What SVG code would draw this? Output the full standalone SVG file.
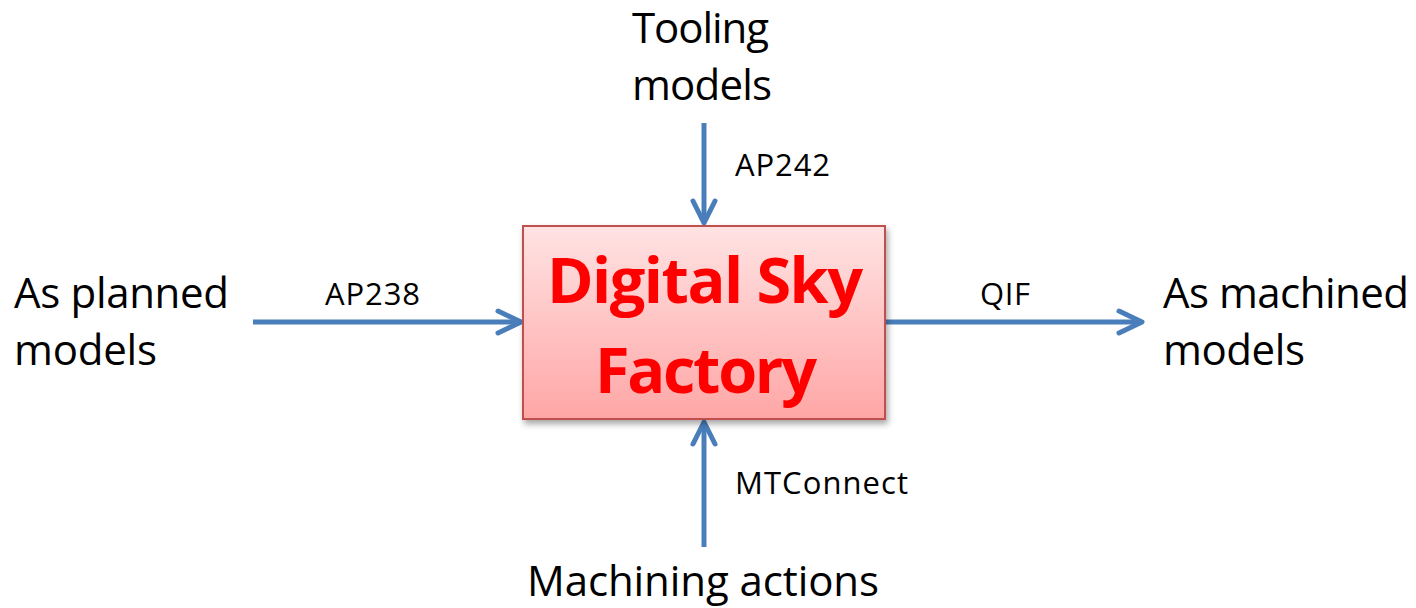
<svg xmlns="http://www.w3.org/2000/svg" width="1416" height="608" viewBox="0 0 1416 608">
<defs>
<linearGradient id="boxFill" x1="0" y1="0" x2="0" y2="1">
<stop offset="0" stop-color="#FFE3E3"/>
<stop offset="1" stop-color="#FFA6A6"/>
</linearGradient>
<filter id="shadow" x="-10%" y="-10%" width="120%" height="130%">
<feDropShadow dx="2" dy="4" stdDeviation="3" flood-color="#000" flood-opacity="0.35"/>
</filter>
</defs>
<style>
.lbl{font-family:"Open Sans","Noto Sans","Liberation Sans",sans-serif;fill:#000;}
.big{font-size:42px;}
.small{font-size:31px;}
.title{font-family:"Open Sans","Noto Sans","Liberation Sans",sans-serif;font-weight:bold;font-size:63px;fill:#FF0000;}
.conn{fill:none;stroke:#4A7EBB;stroke-width:5;stroke-linecap:round;stroke-linejoin:round;}
.shaft{stroke-linecap:butt;}
</style>
<g id="connectors">
<g id="edge-left">
<path class="conn shaft" d="M253 322 H520"/>
<path class="conn" d="M498 311 L521 322 L498 333"/>
</g>
<g id="edge-right">
<path class="conn shaft" d="M886 322 H1141"/>
<path class="conn" d="M1119 311 L1142 322 L1119 333"/>
</g>
<g id="edge-top">
<path class="conn shaft" d="M704 123 V222"/>
<path class="conn" d="M693 201 L704 223 L715 201"/>
</g>
<g id="edge-bottom">
<path class="conn shaft" d="M704 547 V424"/>
<path class="conn" d="M693 444 L704 422 L715 444"/>
</g>
<text class="lbl small" x="325" y="305" textLength="95">AP238</text>
<text class="lbl small" x="980" y="305" textLength="50">QIF</text>
<text class="lbl small" x="735" y="176" textLength="95">AP242</text>
<text class="lbl small" x="735" y="494" textLength="173">MTConnect</text>
</g>
<g id="node-factory">
<rect x="523" y="226" width="362" height="193" fill="url(#boxFill)" stroke="#C0504D" stroke-width="2" filter="url(#shadow)"/>
<text class="title" x="547" y="303" textLength="316">Digital Sky</text>
<text class="title" x="595" y="393" textLength="222">Factory</text>
</g>
<g id="node-tooling">
<text class="lbl big" x="632" y="43" textLength="137">Tooling</text>
<text class="lbl big" x="632" y="100" textLength="140">models</text>
</g>
<g id="node-planned">
<text class="lbl big" x="14" y="308" textLength="215">As planned</text>
<text class="lbl big" x="14" y="365" textLength="143">models</text>
</g>
<g id="node-machined">
<text class="lbl big" x="1163" y="308" textLength="246">As machined</text>
<text class="lbl big" x="1163" y="365" textLength="142">models</text>
</g>
<g id="node-actions">
<text class="lbl big" x="527" y="596" textLength="352">Machining actions</text>
</g>
</svg>
